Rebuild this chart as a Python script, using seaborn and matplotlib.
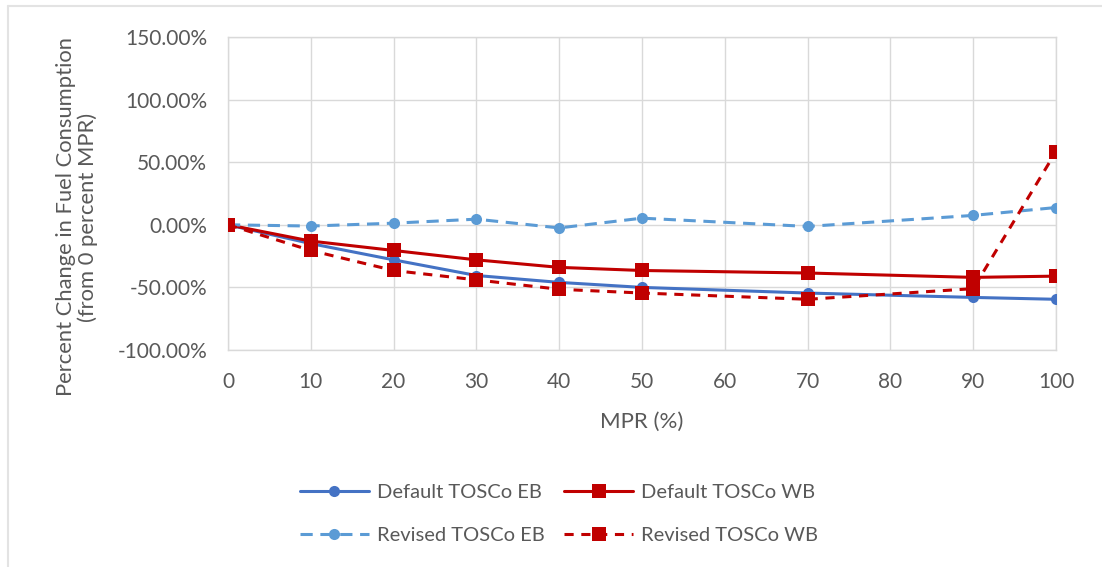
import matplotlib
matplotlib.use("Agg")
import matplotlib.pyplot as plt
from matplotlib.lines import Line2D
from matplotlib.ticker import FuncFormatter
import seaborn as sns
import pandas as pd

mpr = [0, 10, 20, 30, 40, 50, 70, 90, 100]
default_eb = [0.0, -15.0, -28.0, -40.5, -46.0, -50.0, -54.5, -58.0, -59.5]
default_wb = [0.0, -13.0, -20.5, -28.0, -34.0, -36.5, -38.5, -42.0, -41.0]
revised_eb = [0.0, -1.0, 1.3, 4.5, -2.5, 5.3, -1.3, 7.5, 13.8]
revised_wb = [0.0, -20.5, -36.5, -44.0, -51.5, -54.5, -59.5, -51.0, 58.5]
series_names = ["Default TOSCo EB", "Default TOSCo WB", "Revised TOSCo EB", "Revised TOSCo WB"]
y_ticks = [-100, -50, 0, 50, 100, 150]
x_ticks = [0, 10, 20, 30, 40, 50, 60, 70, 80, 90, 100]

sns.set_theme(style="white")
plt.rcParams["font.family"] = ["Lato", "DejaVu Sans"]

text_col = "#595959"
grid_col = "#D9D9D9"
lw = 2.2
styles = {
    "Default TOSCo EB": dict(color="#4472C4", ls="-", marker="o", ms=8),
    "Default TOSCo WB": dict(color="#C00000", ls="-", marker="s", ms=9.5),
    "Revised TOSCo EB": dict(color="#5B9BD5", ls=(0, (4, 2.5)), marker="o", ms=8),
    "Revised TOSCo WB": dict(color="#C00000", ls=(0, (3, 2.5)), marker="s", ms=9.5),
}

fig = plt.figure(figsize=(11.02, 5.67), dpi=100)
ax = fig.add_axes([228 / 1102, 1 - 350 / 567, (1056 - 228) / 1102, (350 - 37) / 567])

df = pd.DataFrame({"MPR": mpr * 4,
                   "value": default_eb + default_wb + revised_eb + revised_wb,
                   "series": sum([[n] * len(mpr) for n in series_names], [])})

for name in series_names:
    st = styles[name]
    sub = df[df["series"] == name]
    sns.lineplot(data=sub, x="MPR", y="value", ax=ax, color=st["color"],
                 linestyle=st["ls"], marker=st["marker"], markersize=st["ms"],
                 markeredgewidth=0, linewidth=lw, zorder=3, legend=False)

ax.set_xlim(0, 100)
ax.set_ylim(-100, 150)
ax.set_xticks(x_ticks)
ax.set_yticks(y_ticks)
ax.yaxis.set_major_formatter(FuncFormatter(lambda v, p: f"{v:.2f}%"))
ax.grid(True, color=grid_col, linewidth=1.0)
ax.set_axisbelow(True)
for s in ax.spines.values():
    s.set_color(grid_col)
    s.set_linewidth(1.0)
ax.tick_params(axis="both", colors=text_col, labelsize=15, length=0)
ax.tick_params(axis="y", pad=15)
ax.tick_params(axis="x", pad=16)
ax.set_xlabel("")
ax.set_ylabel("")

fig.text(642 / 1102, 1 - 422 / 567, "MPR (%)", ha="center", va="center",
         color=text_col, fontsize=16)
fig.text(77 / 1102, 1 - 217 / 567,
         "Percent Change in Fuel Consumption\n(from 0 percent MPR)",
         ha="center", va="center", rotation=90, color=text_col, fontsize=15.8,
         linespacing=1.1)

# legend: two rows (Default / Revised), filled column by column
order = ["Default TOSCo EB", "Revised TOSCo EB", "Default TOSCo WB", "Revised TOSCo WB"]
handles = [Line2D([0], [0], color=styles[n]["color"], linestyle=styles[n]["ls"],
                  marker=styles[n]["marker"], markersize=styles[n]["ms"],
                  markeredgewidth=0, linewidth=lw) for n in order]
fig.legend(handles, order, ncol=2, loc="center",
           bbox_to_anchor=(559 / 1102, 1 - 514 / 567), frameon=False,
           fontsize=14.5, labelcolor=text_col, handlelength=3.45,
           columnspacing=0.95, handletextpad=0.4, labelspacing=1.25)

# outer chart frame
fig.add_artist(Line2D([8 / 1102, 1], [1 - 6 / 567, 1 - 6 / 567],
                      transform=fig.transFigure, color="#E3E3E3", linewidth=1.5))
fig.add_artist(Line2D([8 / 1102, 8 / 1102], [0, 1 - 6 / 567],
                      transform=fig.transFigure, color="#E3E3E3", linewidth=1.5))

fig.savefig("out.png", dpi=100, facecolor="white")
